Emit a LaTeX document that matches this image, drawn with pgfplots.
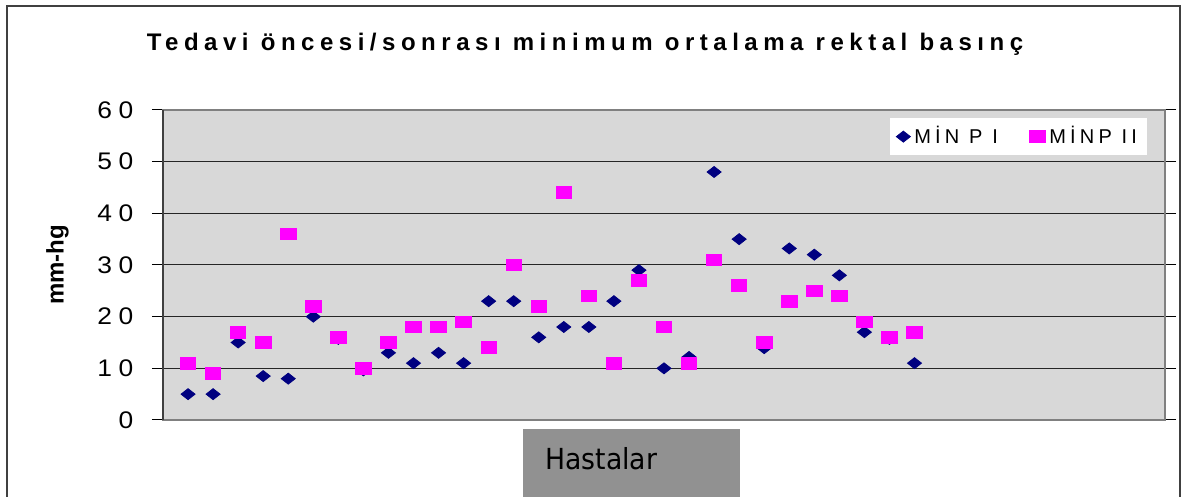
\documentclass[border=0pt]{standalone}
\usepackage{fontspec}
\setmainfont{Liberation Sans}
\newfontfamily\tickfont[LetterSpace=25]{Liberation Sans}
\newfontfamily\titlefont[LetterSpace=23]{Liberation Sans}
\newfontfamily\legfont[LetterSpace=21]{Liberation Sans}
\newfontfamily\boxfont{DejaVu Sans}
\usepackage{pgfplots}
\usepackage{pgfplotstable}
\pgfplotsset{compat=1.18}

\definecolor{navy}{RGB}{0,0,128}
\definecolor{mag}{RGB}{255,0,255}
\definecolor{plotbg}{RGB}{216,216,216}
\definecolor{boxgray}{RGB}{145,145,145}
\definecolor{framegray}{RGB}{128,128,128}

% MIN P I (before)
\pgfplotstableread{
x y
1 5
2 5
3 15
4 8.5
5 8
6 20
7 15.7
8 9.6
9 13
10 11
11 13
12 11
13 23
14 23
15 16
16 18
17 18
18 23
19 29
20 10
21 12.2
22 48
23 35
24 13.9
25 33.2
26 32
27 28
28 17
29 15.7
30 11
}\minpi

% MINP II (after)
\pgfplotstableread{
x y
1 11
2 9
3 17
4 15
5 36
6 22
7 16
8 10
9 15
10 18
11 18
12 19
13 14
14 30
15 22
16 44
17 24
18 11
19 27
20 18
21 11
22 31
23 26
24 15
25 23
26 25
27 24
28 19
29 16
30 17
}\minpii

\begin{document}
\begin{tikzpicture}
\useasboundingbox (0,0) rectangle (593.5pt,248.5pt);
% chart area frame
\draw[line width=1pt, black!75] (3.5pt,-5pt) -- (3.5pt,245.5pt) -- (590pt,245.5pt) -- (590pt,-5pt);
% title
\node[font=\titlefont\bfseries\fontsize{12}{14}\selectfont] at (292.5pt,226.5pt)
  {Tedavi öncesi/sonrası minimum ortalama rektal basınç};

\begin{axis}[
    at={(81.5pt,38.5pt)}, anchor=south west,
    scale only axis, width=501pt, height=155pt,
    xmin=0, xmax=40, ymin=0, ymax=60,
    ytick={0,10,...,60}, xtick=\empty,
    axis background/.style={fill=plotbg},
    ymajorgrids,
    major grid style={black!85, line width=0.5pt},
    axis line style={framegray, line width=1pt},
    tick align=outside, major tick length=5.5pt,
    ytick style={black, line width=0.5pt},
    /pgf/number format/assume math mode=true,
    yticklabel style={font=\tickfont\fontsize{12}{14}\selectfont, xscale=1.1, xshift=-5pt},
    ylabel={mm-hg},
    ylabel style={at={(axis description cs:-0.1053,0.5)}, anchor=center,
      font=\bfseries\fontsize{12}{14}\selectfont},
    legend columns=2,
    legend style={at={(axis description cs:0.7255,0.974)}, anchor=north west,
      draw=none, fill=white, font=\legfont\fontsize{10}{12}\selectfont,
      /tikz/every even column/.append style={column sep=14pt}},
]
\addplot[only marks, mark=diamond*, mark size=2.75pt, navy,
  mark options={xscale=1.7, draw=none, fill=navy}] table {\minpi};
\addlegendentry{MİN P I}
\addplot[only marks, mark=square*, mark size=2.9pt, mag,
  mark options={xscale=1.33, draw=none, fill=mag}] table {\minpii};
\addlegendentry{MİNP II}
\end{axis}
\draw[line width=1pt, black!75] (81.5pt,38.5pt) -- (81.5pt,193.5pt);

% x axis title box
\fill[boxgray] (261.5pt,-5pt) rectangle (370pt,34pt);
\node[anchor=base west, inner sep=0pt, xscale=0.92,
  font=\boxfont\fontsize{14.5}{16}\selectfont] at (272.5pt,13.5pt) {Hastalar};
\end{tikzpicture}
\end{document}
